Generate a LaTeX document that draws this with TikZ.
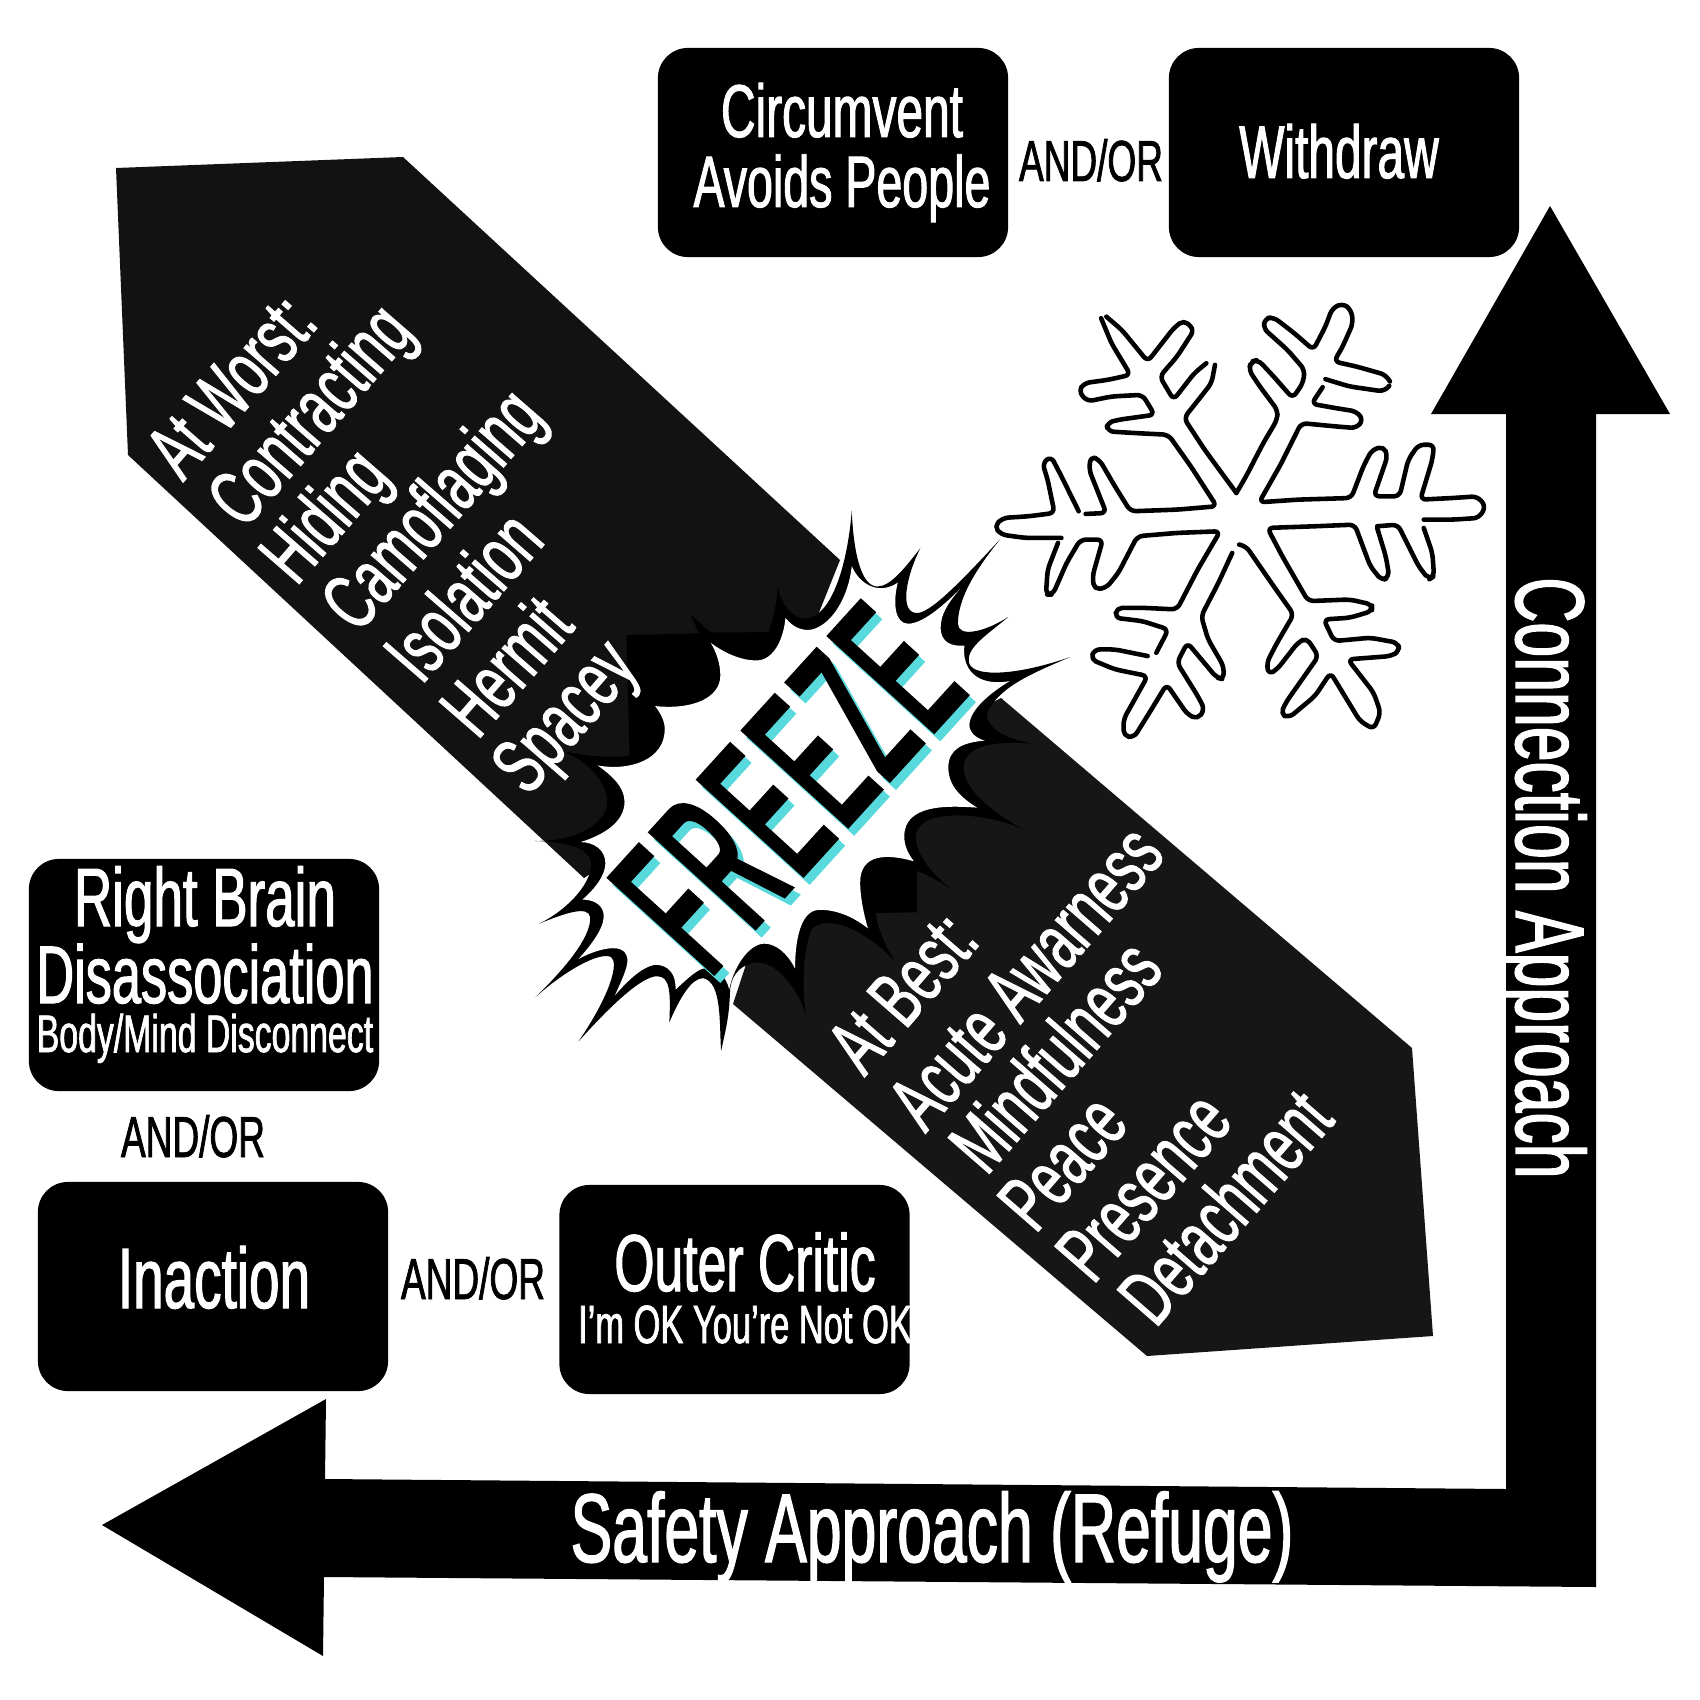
\documentclass[tikz,border=0pt]{standalone}
\usepackage{fontspec}
\setmainfont{Liberation Sans}[FakeStretch=0.64,FakeBold=1.3]
\newfontfamily\frz{Liberation Sans}[FakeStretch=0.43,FakeBold=2.6,LetterSpace=3.8]
\newcommand{\px}[1]{\fontsize{\the\dimexpr 0.2835pt*#1\relax}{\the\dimexpr 0.34pt*#1\relax}\selectfont}
\definecolor{darkA}{HTML}{121212}
\definecolor{darkB}{HTML}{161616}
\definecolor{shadow}{HTML}{58DADD}
\tikzset{
  blackbox/.style={fill=black,rounded corners=0.3cm,minimum width=3.5cm,minimum height=2.09cm,inner sep=0pt},
  wtext/.style={text=white,inner sep=0pt,anchor=base},
  btext/.style={text=black,inner sep=0pt,anchor=base},
  listA/.style={wtext,rotate=49,font=\px{80}},
  burstunits/.style={shift={(500,480)},x=0.003827cm,y=-0.003827cm},
  flakeunits/.style={shift={(970,280)},x=0.003444cm,y=-0.003333cm},
  flakeline/.style={draw=black,line width=1.3pt,rounded corners=1.6pt,line cap=round,line join=round}
}
\begin{document}
\begin{tikzpicture}[x=0.01cm,y=-0.01cm]
\useasboundingbox (0,0) rectangle (1700,1700);
\fill[white] (0,0) rectangle (1700,1700);
% diagonal arrows
\fill[darkA] (116,168) -- (403,157) -- (840,560) -- (760,760) -- (584,878) -- (128,455) -- cycle;
\fill[darkB] (1001,698) -- (1412,1048) -- (1433,1336) -- (1147,1356) -- (733,1004) -- (800,800) -- cycle;
% L arrow
\fill[black] (1550,206) -- (1670,414) -- (1596,414) -- (1596,1587) -- (324,1577) -- (323,1656) -- (102,1525) -- (326,1399) -- (325,1479) -- (1506,1489) -- (1506,414) -- (1431,414) -- cycle;
% boxes
\node[blackbox] (circ) at (833,152.5) {};
\node[blackbox] (withd) at (1344,152.5) {};
\node[blackbox,minimum height=2.32cm] (brain) at (204,975) {};
\node[blackbox] (inact) at (213,1286.5) {};
\node[blackbox] (outer) at (734.5,1289.5) {};
% burst
\begin{scope}[burstunits]
\fill[black] (918,80) .. controls (922,180) and (940,278) .. (985,278)
 .. controls (1020,278) and (1060,225) .. (1097,178)
 .. controls (1060,250) and (1040,350) .. (1090,347)
 .. controls (1130,345) and (1230,235) .. (1305,155)
 .. controls (1240,235) and (1195,310) .. (1195,375)
 .. controls (1195,410) and (1260,400) .. (1327,357)
 .. controls (1270,405) and (1212,440) .. (1225,480)
 .. controls (1240,515) and (1350,510) .. (1488,462)
 .. controls (1400,500) and (1310,535) .. (1275,600)
 .. controls (1255,640) and (1320,680) .. (1395,688)
 .. controls (1300,680) and (1210,690) .. (1210,750)
 .. controls (1210,810) and (1290,870) .. (1365,912)
 .. controls (1280,870) and (1090,850) .. (1085,930)
 .. controls (1085,980) and (1130,1030) .. (1180,1070)
 .. controls (1130,1035) and (1090,1020) .. (1088,1020) -- (1088,1128) -- (980,1130)
 .. controls (985,1170) and (1005,1215) .. (1030,1255)
 .. controls (960,1180) and (860,1130) .. (815,1170)
 .. controls (795,1210) and (785,1300) .. (798,1395)
 .. controls (770,1310) and (710,1250) .. (660,1260)
 .. controls (620,1270) and (600,1300) .. (600,1340)
 .. controls (598,1400) and (590,1430) .. (577,1490)
 .. controls (572,1420) and (580,1310) .. (530,1300)
 .. controls (500,1300) and (470,1350) .. (442,1415)
 .. controls (445,1340) and (445,1295) .. (410,1295)
 .. controls (370,1295) and (290,1370) .. (205,1465)
 .. controls (290,1340) and (310,1260) .. (290,1245)
 .. controls (260,1230) and (170,1280) .. (92,1350)
 .. controls (170,1275) and (240,1190) .. (235,1140)
 .. controls (230,1110) and (170,1130) .. (102,1158)
 .. controls (170,1125) and (235,1060) .. (238,1005)
 .. controls (238,960) and (180,945) .. (90,942)
 .. controls (190,945) and (280,900) .. (280,840)
 .. controls (280,790) and (230,730) .. (155,705)
 .. controls (220,722) and (290,725) .. (338,720)
 -- (330,405) -- (520,400) -- (497,352) -- (550,398) -- (700,397)
 .. controls (715,360) and (722,320) .. (725,280)
 .. controls (735,330) and (765,362) .. (800,362)
 .. controls (860,355) and (905,240) .. (918,80) -- cycle;
\fill[white] (918,225) .. controls (940,275) and (990,300) .. (1038,268)
 .. controls (1025,320) and (1030,375) .. (1065,375)
 .. controls (1100,375) and (1150,335) .. (1200,285)
 .. controls (1170,320) and (1150,350) .. (1150,385)
 .. controls (1150,425) and (1180,435) .. (1212,432)
 .. controls (1205,490) and (1240,540) .. (1330,525)
 .. controls (1280,555) and (1225,600) .. (1225,640)
 .. controls (1225,660) and (1245,675) .. (1265,680)
 .. controls (1210,685) and (1170,700) .. (1170,750)
 .. controls (1170,800) and (1205,830) .. (1245,855)
 .. controls (1170,850) and (1055,845) .. (1055,930)
 .. controls (1055,955) and (1065,975) .. (1080,995)
 .. controls (1010,975) and (940,975) .. (940,1050)
 .. controls (940,1090) and (950,1135) .. (960,1170)
 .. controls (910,1130) and (860,1120) .. (830,1122)
 .. controls (785,1125) and (770,1200) .. (770,1275)
 .. controls (750,1235) and (720,1210) .. (690,1210)
 .. controls (650,1210) and (610,1270) .. (598,1330)
 .. controls (590,1290) and (560,1270) .. (530,1275)
 .. controls (510,1280) and (480,1310) .. (458,1330)
 .. controls (460,1290) and (440,1265) .. (405,1265)
 .. controls (370,1270) and (330,1310) .. (300,1345)
 .. controls (320,1300) and (340,1260) .. (330,1240)
 .. controls (320,1210) and (260,1220) .. (205,1250)
 .. controls (250,1200) and (275,1160) .. (270,1130)
 .. controls (265,1105) and (240,1095) .. (215,1095)
 .. controls (250,1065) and (275,1030) .. (275,1000)
 .. controls (275,965) and (245,945) .. (210,945)
 .. controls (275,925) and (325,890) .. (325,840)
 .. controls (325,800) and (290,770) .. (255,745)
 .. controls (340,760) and (430,730) .. (430,650)
 .. controls (430,630) and (420,610) .. (405,590)
 .. controls (500,600) and (575,570) .. (575,510)
 .. controls (575,480) and (565,450) .. (550,425)
 .. controls (590,455) and (640,475) .. (680,470)
 .. controls (720,460) and (740,410) .. (745,360)
 .. controls (765,385) and (790,395) .. (815,390)
 .. controls (870,375) and (910,300) .. (918,225) -- cycle;
\end{scope}
% FREEZE
\node[text=shadow,inner sep=0pt,anchor=base,rotate=47.7,font=\frz\px{205}] (frzs) at (845,842) {FREEZE};
\node[text=black,inner sep=0pt,anchor=base,rotate=47.7,font=\frz\px{205}] (frz) at (839,835) {FREEZE};
% snowflake
\begin{scope}[flakeunits]
\draw[flakeline] (772,640) -- (800,590) -- (850,490) -- (890,420) -- (892,392) -- (840,320) -- (808,270) -- (815,245) -- (835,240) -- (880,290) -- (935,355) -- (965,310) -- (970,270) -- (920,210) -- (850,145) -- (855,115) -- (880,112) -- (940,160) -- (995,210) -- (1030,140) -- (1050,85) -- (1080,70) -- (1105,90) -- (1110,130) -- (1080,200) -- (1055,245) -- (1120,260) -- (1205,285) -- (1217,305);
\draw[flakeline] (1030,298) -- (1100,320) -- (1200,335) -- (1215,318);
\draw[flakeline] (1022,322) -- (990,372) -- (1060,385) -- (1120,395) -- (1140,420) -- (1120,445) -- (1060,440) -- (960,430) -- (900,555) -- (838,668) -- (950,660) -- (1105,655) -- (1140,560) -- (1165,510) -- (1200,500) -- (1210,530) -- (1170,650) -- (1245,650) -- (1270,540) -- (1300,495) -- (1345,495) -- (1340,540) -- (1305,660) -- (1400,655) -- (1470,650) -- (1495,680) -- (1475,715) -- (1400,720) -- (1315,720);
\draw[flakeline] (1315,745) -- (1340,820) -- (1345,890) -- (1330,900) -- (1300,860) -- (1240,735) -- (1180,740);
\draw[flakeline] (1180,745) -- (1205,830) -- (1215,890) -- (1195,905) -- (1160,860) -- (1115,735) -- (1000,740) -- (862,745) -- (905,830) -- (980,965) -- (1100,960) -- (1165,975) -- (1165,995) -- (1100,1015) -- (1025,1020) -- (1055,1085) -- (1160,1075) -- (1240,1090) -- (1245,1115) -- (1220,1130) -- (1095,1140) -- (1170,1240) -- (1190,1300) -- (1170,1350) -- (1130,1325) -- (1045,1180) -- (1000,1250) -- (925,1315) -- (900,1305) -- (915,1270) -- (1010,1130) -- (975,1075) -- (950,1090) -- (890,1170) -- (865,1185) -- (860,1150) -- (890,1090) -- (938,1005) -- (880,920) -- (800,800) -- (780,795);
\draw[flakeline] (760,820) -- (720,910) -- (670,1010) -- (690,1080) -- (735,1160) -- (735,1200) -- (715,1195) -- (630,1090) -- (600,1150) -- (660,1250) -- (680,1290) -- (660,1320) -- (630,1305) -- (570,1215) -- (520,1300) -- (475,1375) -- (445,1370) -- (445,1320) -- (515,1190) -- (420,1170) -- (350,1140) -- (360,1110) -- (420,1110) -- (515,1130);
\draw[flakeline] (540,1120) -- (575,1050) -- (500,1025) -- (420,1015) -- (425,985) -- (500,985) -- (600,990) -- (660,870) -- (725,755) -- (600,760) -- (485,770) -- (430,880) -- (395,925) -- (360,930) -- (355,890) -- (385,780) -- (320,780) -- (280,850) -- (240,945) -- (220,945) -- (225,870) -- (255,790);
\draw[flakeline] (265,775) -- (160,775) -- (90,765) -- (70,740) -- (95,715) -- (170,710) -- (245,700) -- (225,600) -- (210,550) -- (235,530) -- (265,590) -- (315,695);
\draw[flakeline] (335,703) -- (395,700) -- (345,570) -- (350,530) -- (375,540) -- (420,620) -- (465,695) -- (600,690) -- (715,680) -- (640,560) -- (575,465) -- (480,460) -- (400,455) -- (395,430) -- (430,420) -- (535,405) -- (500,345) -- (410,350) -- (340,365) -- (315,335) -- (330,310) -- (400,300) -- (465,285) -- (410,190) -- (380,115);
\draw[flakeline] (395,110) -- (440,150) -- (515,245) -- (590,145) -- (620,120) -- (650,150) -- (600,230) -- (550,290) -- (590,360) -- (650,280) -- (685,250);
\draw[flakeline] (710,255) -- (700,310) -- (620,415) -- (680,510) -- (772,640);
\end{scope}
% box text
\node[wtext,font=\px{75}] (t1) at (842,137) {Circumvent};
\node[wtext,font=\px{73}] (t2) at (842,207) {Avoids People};
\node[wtext,font=\px{75}] (t3) at (1339,178) {Withdraw};
\node[wtext,font=\px{83}] (t4) at (205,926) {Right Brain};
\node[wtext,font=\px{82}] (t5) at (205,1003) {Disassociation};
\node[wtext,font=\px{53}] (t6) at (205,1052) {Body/Mind Disconnect};
\node[wtext,font=\px{86}] (t7) at (214,1308) {Inaction};
\node[wtext,font=\px{81}] (t8) at (745,1291) {Outer Critic};
\begin{scope}
\clip (559,1185) rectangle (910,1394);
\node[wtext,font=\px{54}] (t9) at (745,1343) {I'm OK You're Not OK};
\end{scope}
\node[btext,font=\px{58}] (a1) at (1091,181) {AND/OR};
\node[btext,font=\px{58}] (a2) at (193,1157) {AND/OR};
\node[btext,font=\px{58}] (a3) at (473,1299) {AND/OR};
% arrow labels
\node[wtext,font=\px{98}] (safe) at (932,1562) {Safety Approach (Refuge)};
\node[wtext,rotate=-90,font=\px{98}] (conn) at (1516,878) {Connection Approach};
% lists
\node[listA] (l1) at (251.5,403.6) {At Worst:};
\node[listA] (l2) at (330,432) {Contracting};
\node[listA] (l3) at (344,532.4) {Hiding};
\node[listA] (l4) at (452,526.5) {Camoflaging};
\node[listA] (l5) at (484,614) {Isolation};
\node[listA] (l6) at (527,684) {Hermit};
\node[listA] (l7) at (584,733) {Spacey};
\node[listA] (r1) at (923,1010) {At Best:};
\node[listA] (r2) at (1046,995) {Acute Awarness};
\node[listA] (r3) at (1076,1074) {Mindfulness};
\node[listA] (r4) at (1083,1180) {Peace};
\node[listA] (r5) at (1164,1204) {Presence};
\node[listA] (r6) at (1246,1225) {Detachment};
\end{tikzpicture}
\end{document}
